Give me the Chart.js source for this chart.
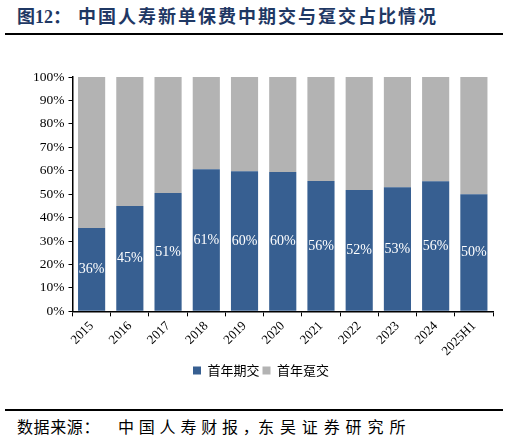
<!DOCTYPE html>
<html>
<head>
<meta charset="utf-8">
<script src="https://cdn.jsdelivr.net/npm/chart.js@4"></script>
<style>
  html, body { margin: 0; padding: 0; background: #fff; }
  body { width: 509px; height: 445px; position: relative; overflow: hidden; }
  .t {
    position: absolute; top: 2px;
    font: bold 18px "Liberation Serif", "Noto Sans CJK SC", serif;
    color: #1f3864; white-space: nowrap;
  }
  .t.cn { font-family: "Noto Sans CJK SC", sans-serif; letter-spacing: 2px; }
  .rule { position: absolute; left: 5px; width: 498px; height: 2px; background: #000; }
  .s {
    position: absolute; top: 414px;
    font: 16px "Noto Sans CJK SC", sans-serif; color: #000; white-space: nowrap;
  }
  #wrap { position: absolute; left: 0; top: 40px; width: 509px; height: 349px; }
</style>
</head>
<body>
<div class="t" style="left:17px">图12：</div>
<div class="t cn" style="left:78px">中国人寿新单保费中期交与趸交占比情况</div>
<div class="rule" style="top:33px"></div>
<div id="wrap"><canvas id="myChart"></canvas></div>
<div class="rule" style="top:409px"></div>
<div class="s" style="left:17px;letter-spacing:0.6px">数据来源：</div>
<div class="s" style="left:118px;letter-spacing:4.8px">中国人寿财报，</div>
<div class="s" style="left:258px;letter-spacing:5.9px">东吴证券研究所</div>

<script>
var years = ["2015", "2016", "2017", "2018", "2019", "2020", "2021", "2022", "2023", "2024", "2025H1"]
var qijiao = [35.6, 45.0, 50.5, 60.6, 59.8, 59.5, 55.6, 51.8, 53.0, 55.5, 50.0]
var dunjiao = qijiao.map(v => 100 - v)
var names = ["首年期交", "首年趸交"]
var barColors = ["#375f91", "#b3b3b3"]

var serif = "'Liberation Serif', 'Times New Roman', serif"

// labels inside the blue bars
var barLabels = {
    id: "barLabels",
    afterDatasetsDraw(chart) {
        let ctx = chart.ctx
        let meta = chart.getDatasetMeta(0)
        ctx.save()
        ctx.fillStyle = "#ffffff"
        ctx.font = "14px " + serif
        ctx.textAlign = "center"
        ctx.textBaseline = "middle"
        meta.data.forEach((bar, i) => {
            ctx.fillText(Math.round(qijiao[i]) + "%", bar.x, (bar.y + bar.base) / 2)
        })
        ctx.restore()
    }
}

new Chart("myChart", {
    type: "bar",
    data: {
        labels: years,
        datasets: [{
            label: names[0],
            data: qijiao,
            backgroundColor: barColors[0],
            categoryPercentage: 1,
            barPercentage: 0.71
        }, {
            label: names[1],
            data: dunjiao,
            backgroundColor: barColors[1],
            categoryPercentage: 1,
            barPercentage: 0.71
        }]
    },
    plugins: [barLabels],
    options: {
        responsive: true,
        maintainAspectRatio: false,
        animation: false,
        layout: { padding: { left: 29, right: 16, top: 37, bottom: 2 } },
        plugins: {
            legend: {
                position: "bottom",
                labels: {
                    boxWidth: 8,
                    boxHeight: 8,
                    padding: 3,
                    color: "#000",
                    font: { family: "'Noto Sans CJK SC', sans-serif", size: 13 }
                }
            },
            tooltip: { enabled: false }
        },
        scales: {
            x: {
                stacked: true,
                grid: { display: true, drawOnChartArea: false, color: "#000", tickLength: 5, offset: true },
                border: { color: "#000", width: 1.5 },
                ticks: {
                    color: "#000",
                    padding: 2,
                    minRotation: 45,
                    maxRotation: 45,
                    font: { family: serif, size: 13 }
                }
            },
            y: {
                stacked: true,
                min: 0,
                max: 100,
                grid: { display: true, drawOnChartArea: false, color: "#000", tickLength: 4 },
                border: { color: "#000", width: 1.5 },
                ticks: {
                    stepSize: 10,
                    color: "#000",
                    padding: 4,
                    font: { family: serif, size: 13.5 },
                    callback: v => v + "%"
                }
            }
        }
    }
})
</script>
</body>
</html>
